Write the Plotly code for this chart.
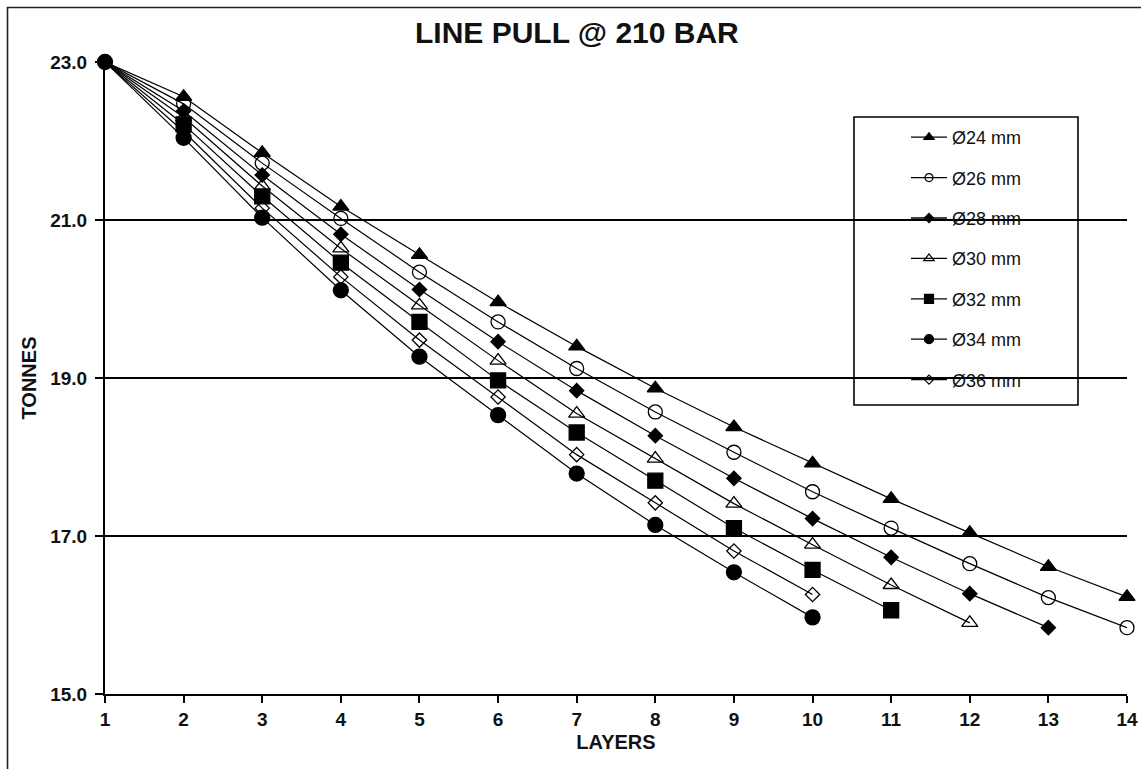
import plotly.graph_objects as go

# ---- data ----
layers = [1, 2, 3, 4, 5, 6, 7, 8, 9, 10, 11, 12, 13, 14]
x_tick_labels = ["1", "2", "3", "4", "5", "6", "7", "8", "9", "10", "11", "12", "13", "14"]
y_tick_values = [15.0, 17.0, 19.0, 21.0, 23.0]

d24 = [23.0, 22.56, 21.85, 21.17, 20.56, 19.96, 19.40, 18.87, 18.38, 17.92, 17.47, 17.04, 16.61, 16.23]
d26 = [23.0, 22.47, 21.72, 21.02, 20.34, 19.71, 19.12, 18.57, 18.06, 17.56, 17.10, 16.65, 16.22, 15.84]
d28 = [23.0, 22.38, 21.57, 20.82, 20.12, 19.46, 18.84, 18.27, 17.73, 17.22, 16.73, 16.27, 15.84]
d30 = [23.0, 22.30, 21.43, 20.64, 19.92, 19.22, 18.55, 17.98, 17.41, 16.89, 16.38, 15.90]
d32 = [23.0, 22.21, 21.30, 20.46, 19.71, 18.97, 18.31, 17.70, 17.10, 16.57, 16.06]
d34 = [23.0, 22.04, 21.03, 20.11, 19.27, 18.53, 17.79, 17.14, 16.54, 15.97]
d36 = [23.0, 22.12, 21.15, 20.28, 19.48, 18.76, 18.03, 17.42, 16.81, 16.26]

series_names = ["Ø24 mm", "Ø26 mm", "Ø28 mm", "Ø30 mm", "Ø32 mm", "Ø34 mm", "Ø36 mm"]
series_values = [d24, d26, d28, d30, d32, d34, d36]

# ---- styles ----
symbols = ["triangle-up", "circle-open", "diamond", "triangle-up-open", "square", "circle", "diamond-open"]
sizes = [14, 14, 11, 14, 15, 15, 11]
legend_sizes = [9, 8, 7, 9, 9, 9, 7]
shared_start_owner = 5  # only this series' marker shows at the common starting point

FONT = "Liberation Sans, Arial, sans-serif"
INK = "#111111"

# the page's body margin is removed (post_script), so figure pixels = page pixels
W, H = 1141, 769
ml, mt = 105, 62
mr = W - 1127
mb = H - 694
pw, ph = W - ml - mr, H - mt - mb


def px_x(p):
    return (p - ml) / pw


def px_y(p):
    return (H - mb - p) / ph


fig = go.Figure()
for i, (name, vals) in enumerate(zip(series_names, series_values)):
    msize = [sizes[i]] * len(vals)
    if i != shared_start_owner:
        msize[0] = 0
    fig.add_trace(go.Scatter(
        x=layers[:len(vals)], y=vals, name=name,
        mode="lines+markers",
        line=dict(color="black", width=1.2),
        marker=dict(symbol=symbols[i], size=msize, color="black", opacity=1,
                    line=dict(color="black", width=1.3)),
        legendgroup=f"g{i}", showlegend=False,
        cliponaxis=False,
    ))
# legend entries (smaller symbols, as in the reference key)
for i, name in enumerate(series_names):
    fig.add_trace(go.Scatter(
        x=[None], y=[None], name=name, mode="lines+markers",
        line=dict(color="black", width=1.3),
        marker=dict(symbol=symbols[i], size=legend_sizes[i], color="black", opacity=1,
                    line=dict(color="black", width=1.2)),
        legendgroup=f"g{i}", showlegend=True,
    ))

fig.update_layout(
    width=W, height=H,
    margin=dict(l=ml, r=mr, t=mt, b=mb, autoexpand=False),
    paper_bgcolor="white", plot_bgcolor="white",
    font=dict(family=FONT, color=INK),
    showlegend=True,
    legend=dict(
        x=px_x(906), y=px_y(119), xanchor="left", yanchor="top",
        bgcolor="rgba(0,0,0,0)", borderwidth=0,
        font=dict(family=FONT, size=18, color=INK),
        tracegroupgap=14, itemwidth=36,
    ),
    annotations=[dict(
        text="LINE PULL @ 210 BAR", xref="paper", yref="paper",
        x=px_x(577), y=px_y(33), xanchor="center", yanchor="middle",
        showarrow=False, font=dict(family=FONT, size=30, color=INK, weight="bold"),
    )],
    shapes=[
        # outer chart frame
        dict(type="rect", xref="paper", yref="paper",
             x0=px_x(7.5), x1=px_x(1200), y0=px_y(850), y1=px_y(7.5),
             line=dict(color="#222", width=1.6), fillcolor="rgba(0,0,0,0)", layer="above"),
        # legend frame
        dict(type="rect", xref="paper", yref="paper",
             x0=px_x(854), x1=px_x(1078), y0=px_y(405), y1=px_y(117),
             line=dict(color="black", width=1.6), fillcolor="rgba(0,0,0,0)", layer="above"),
    ],
)

fig.update_xaxes(
    range=[1, 14], tickmode="array", tickvals=layers, ticktext=x_tick_labels,
    showgrid=False, zeroline=False,
    showline=True, linecolor="black", linewidth=2,
    ticks="outside", ticklen=7, tickwidth=1.5, tickcolor="black",
    ticklabeloverflow="allow",
    tickfont=dict(family=FONT, size=19, color=INK, weight="bold"),
    title=dict(text="LAYERS", font=dict(family=FONT, size=20, color=INK, weight="bold"), standoff=6),
)
fig.update_yaxes(
    range=[15, 23], tickmode="array", tickvals=y_tick_values, tickformat=".1f",
    showgrid=True, gridcolor="black", gridwidth=1.5, zeroline=False,
    showline=True, linecolor="black", linewidth=2,
    ticks="outside", ticklen=8, tickwidth=1.5, tickcolor="black",
    ticklabelstandoff=4,
    tickfont=dict(family=FONT, size=19, color=INK, weight="bold"),
    title=dict(text="TONNES", font=dict(family=FONT, size=20, color=INK, weight="bold"), standoff=8),
)

fig.write_html(
    "out.html",
    config={"displayModeBar": False},
    post_script="document.body.style.margin='0';document.body.style.overflow='hidden';",
)
